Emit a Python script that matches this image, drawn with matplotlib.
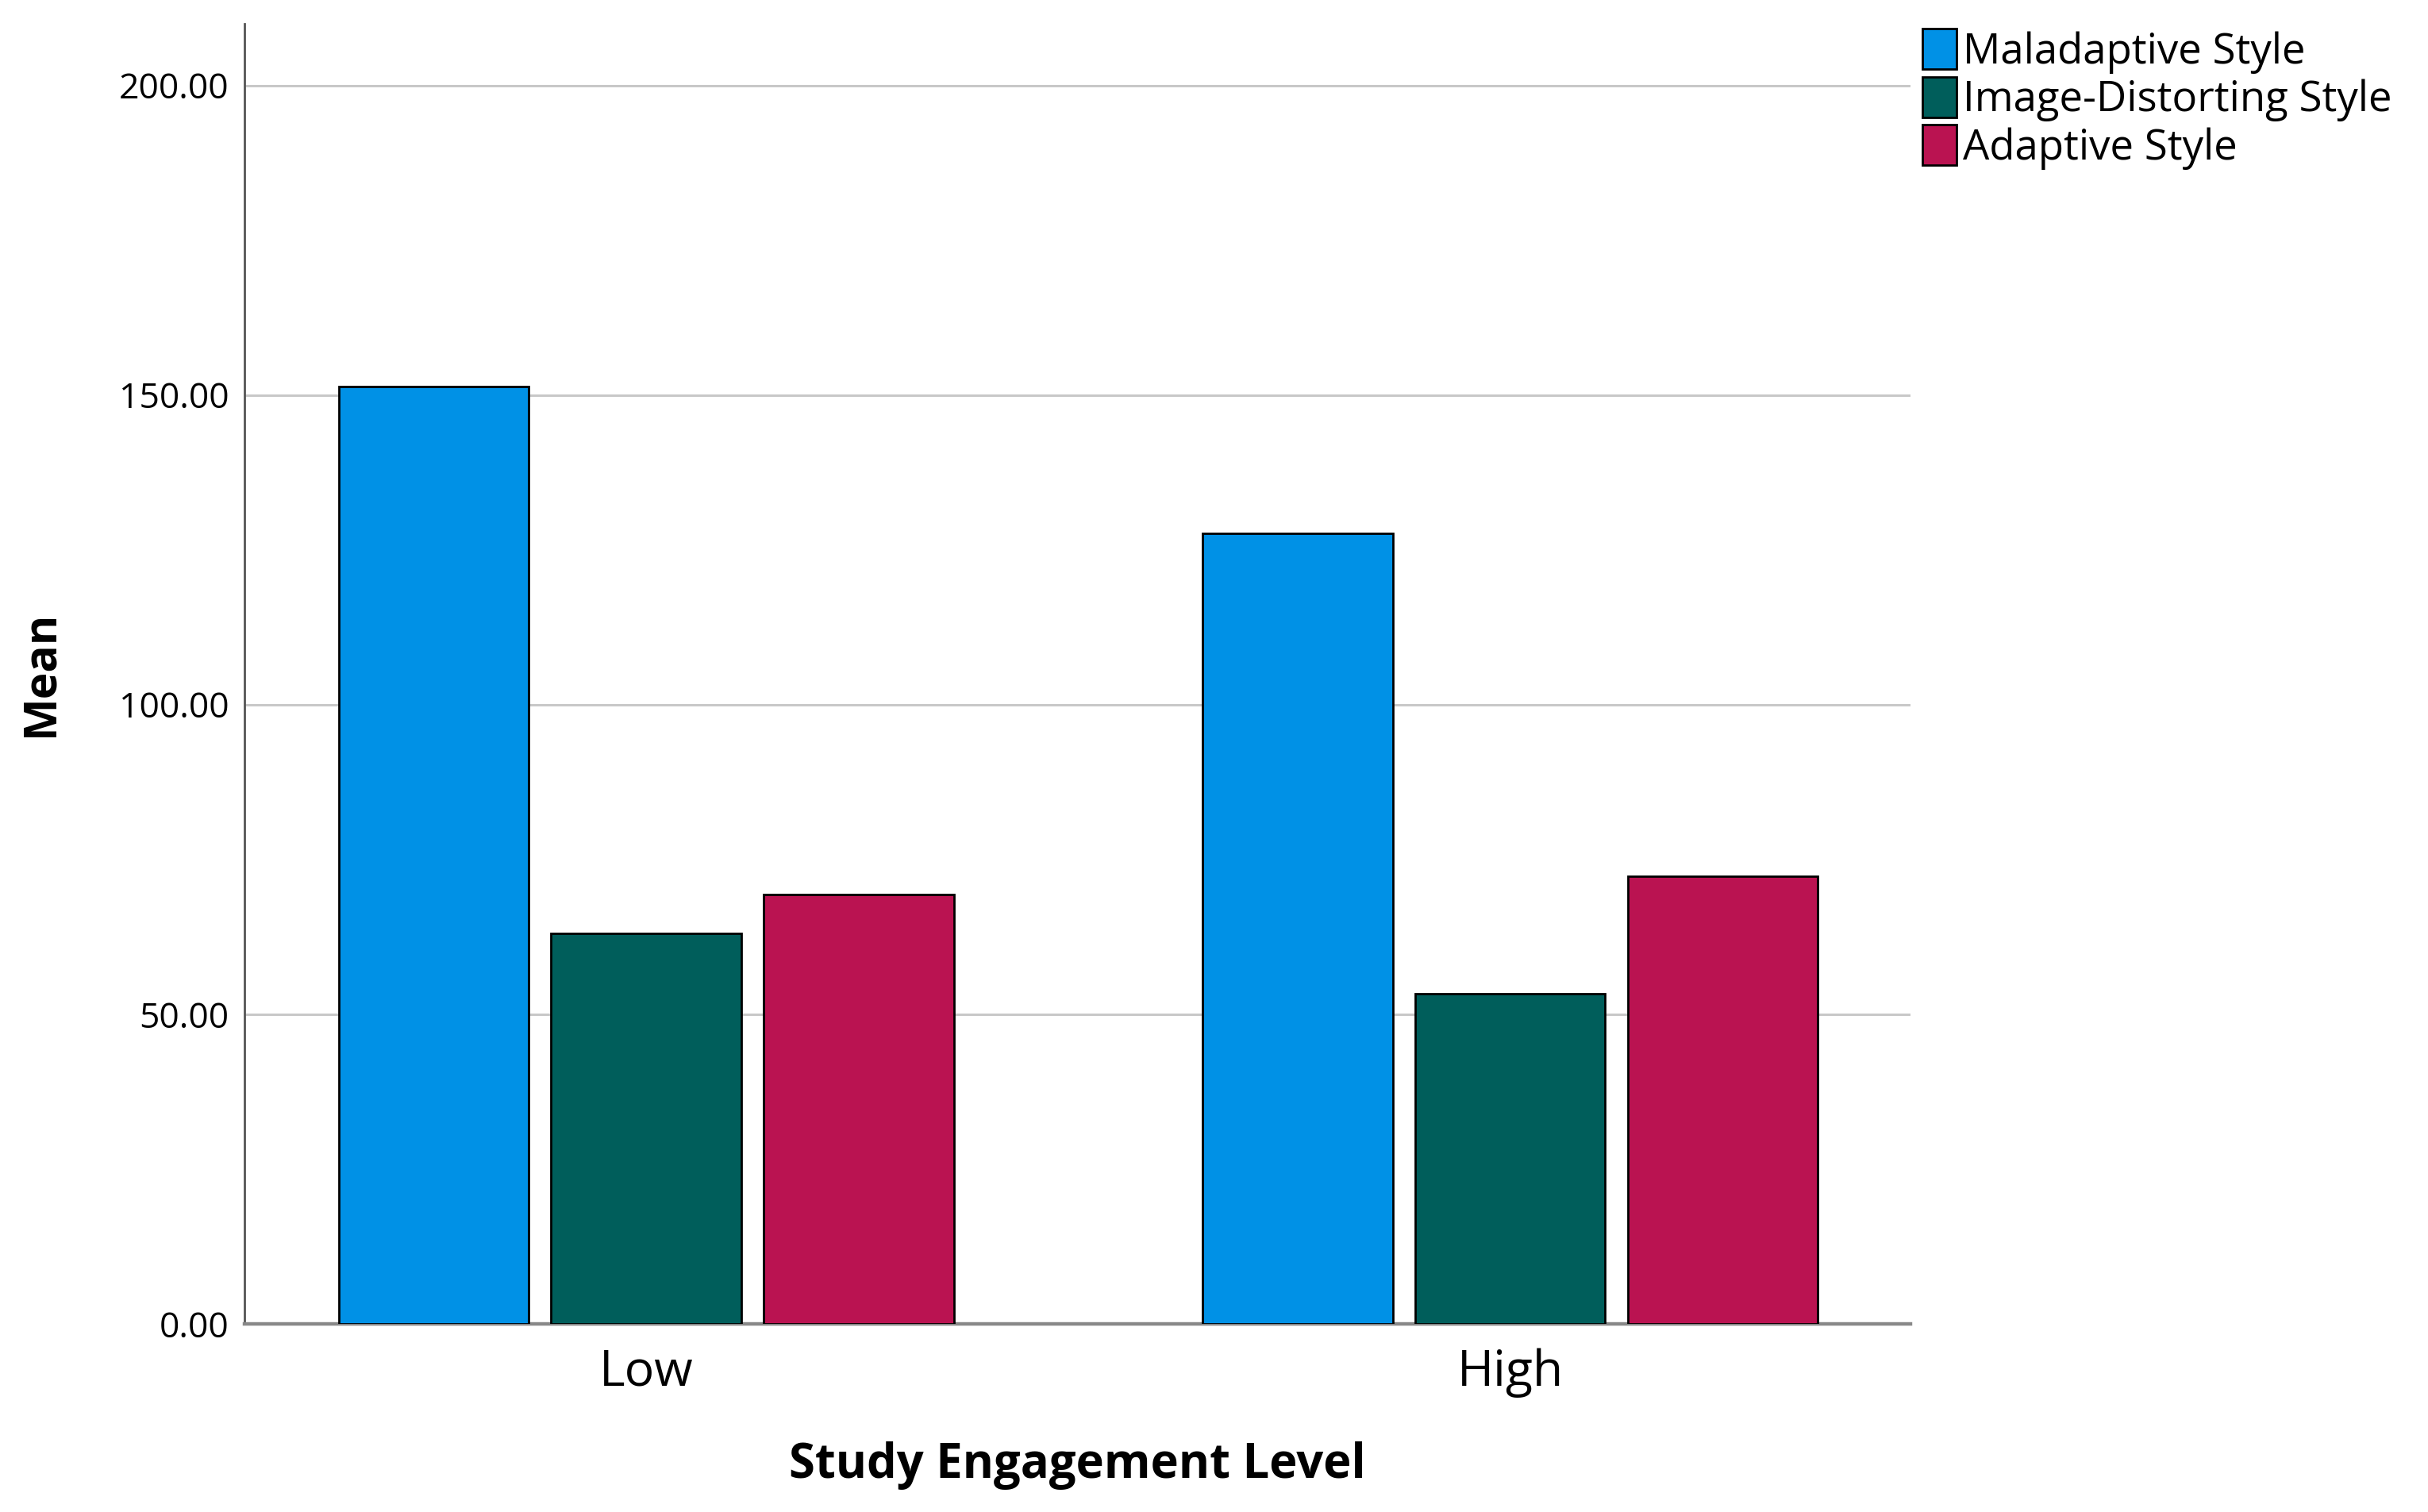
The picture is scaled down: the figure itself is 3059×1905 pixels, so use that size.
import matplotlib
matplotlib.use("Agg")
import matplotlib.pyplot as plt
import numpy as np

groups = ["Low", "High"]
series = ["Maladaptive Style", "Image-Distorting Style", "Adaptive Style"]
maladaptive = [151.4, 127.7]
image_distorting = [63.1, 53.3]
adaptive = [69.3, 72.3]
colors = ["#0091E6", "#005E5B", "#BA1351"]
yticks = [0, 50, 100, 150, 200]


def main() -> None:
    plt.rcParams["font.family"] = ["Open Sans", "DejaVu Sans"]
    fig = plt.figure(figsize=(15.295, 9.525), dpi=200)
    ax = fig.add_axes([0.1007, 0.1245, 0.6860, 0.8600])

    x = np.arange(len(groups))
    width = 0.22
    step = 0.246
    for i, (name, vals) in enumerate(zip(series, [maladaptive, image_distorting, adaptive])):
        ax.bar(x + (i - 1) * step, vals, width, color=colors[i], edgecolor="black",
               linewidth=1.0, label=name, zorder=3)

    ax.set_xlim(-0.465, 1.463)
    ax.set_ylim(0, 210)
    ax.set_yticks(yticks)
    ax.set_yticklabels([f"{v:.2f}" for v in yticks], fontsize=16)
    ax.set_xticks(x)
    ax.set_xticklabels(groups, fontsize=22.5)
    ax.tick_params(axis="y", length=0, pad=7)
    ax.tick_params(axis="x", length=0, pad=11)
    ax.yaxis.grid(True, color="#C8C8C8", linewidth=1.1, zorder=0)
    ax.set_axisbelow(True)

    for s in ["top", "right"]:
        ax.spines[s].set_visible(False)
    ax.spines["left"].set_color("#555555")
    ax.spines["left"].set_linewidth(1.0)
    ax.spines["bottom"].set_color("#888888")
    ax.spines["bottom"].set_linewidth(1.6)

    ax.set_xlabel("Study Engagement Level", fontsize=21.5, fontweight="bold", labelpad=20)
    ax.set_ylabel("Mean", fontsize=20.5, fontweight="bold", labelpad=25)

    fig.legend(loc="upper left", bbox_to_anchor=(0.785, 0.992), frameon=False,
               fontsize=19, handlelength=0.8, handleheight=1.1,
               handletextpad=0.15, labelspacing=0.08, borderaxespad=0)

    fig.savefig("out.png", dpi=200, facecolor="white")


if __name__ == "__main__":
    main()
